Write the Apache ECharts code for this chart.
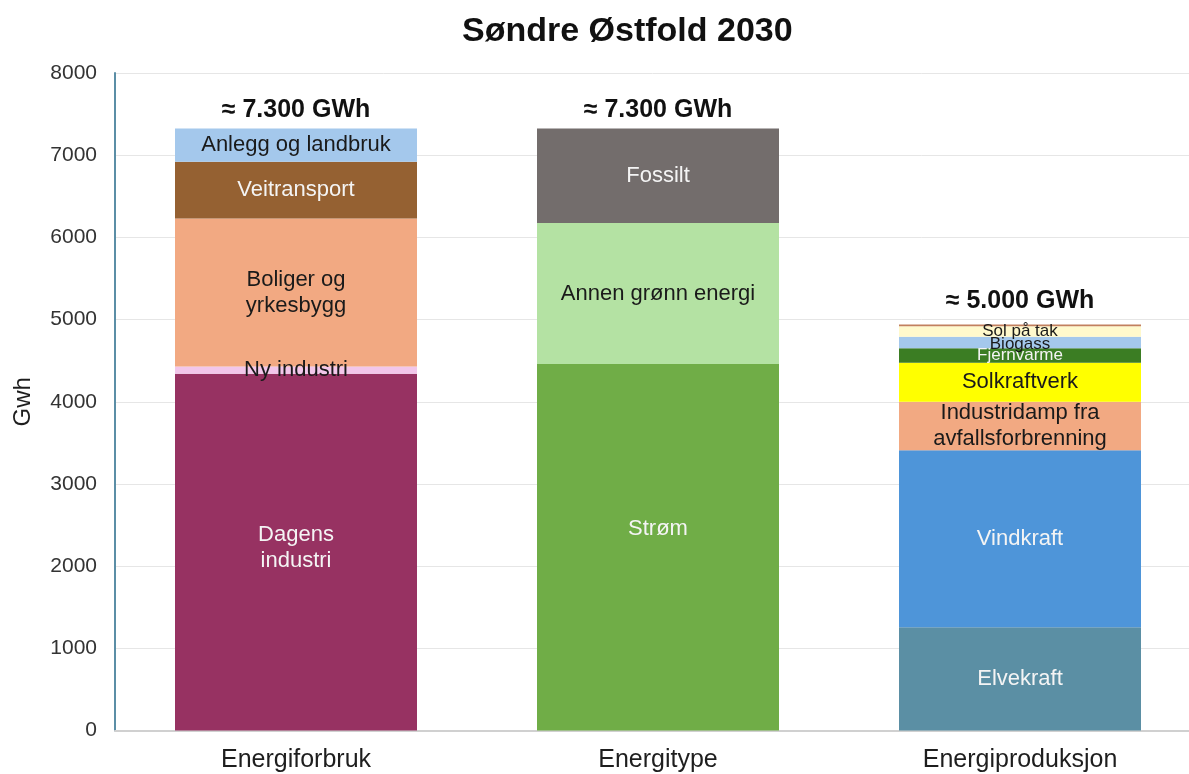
<!DOCTYPE html>
<html>
<head>
<meta charset="utf-8">
<script src="https://cdn.jsdelivr.net/npm/echarts@6/dist/echarts.min.js"></script>
<style>
  html, body { margin: 0; padding: 0; background: #fff; }
  #chart { width: 1189px; height: 774px; }
</style>
</head>
<body>
<div id="chart"></div>
<script>
// data (GWh), every bar bottom -> top
const categories = ['Energiforbruk', 'Energitype', 'Energiproduksjon'];

const forbrukNames = ['Dagens industri', 'Ny industri', 'Boliger og yrkesbygg', 'Veitransport', 'Anlegg og landbruk'];
const forbrukValues = [4340, 90, 1800, 690, 405];

const typeNames = ['Strøm', 'Annen grønn energi', 'Fossilt'];
const typeValues = [4460, 1715, 1150];

const produksjonNames = ['Elvekraft', 'Vindkraft', 'Industridamp fra avfallsforbrenning', 'Solkraftverk', 'Fjernvarme', 'Biogass', 'Sol på tak', 'Annet'];
const produksjonValues = [1255, 2155, 590, 475, 175, 140, 130, 20];

const totalLabels = ['≈ 7.300 GWh', '≈ 7.300 GWh', '≈ 5.000 GWh'];

// label text shown inside the segments ('' = none)
const forbrukTexts = ['Dagens\nindustri', 'Ny industri', 'Boliger og\nyrkesbygg', 'Veitransport', 'Anlegg og landbruk'];
const typeTexts = ['Strøm', 'Annen grønn energi', 'Fossilt'];
const produksjonTexts = ['Elvekraft', 'Vindkraft', 'Industridamp fra\navfallsforbrenning', 'Solkraftverk', 'Fjernvarme', 'Biogass', 'Sol på tak', ''];

// styles
const FONT = 'Liberation Sans, Arial, sans-serif';
const DARK = '#1a1a1a', LIGHT = '#f4f4f4';
const stacks = [
  { names: forbrukNames, values: forbrukValues, texts: forbrukTexts,
    colors: ['#973262', '#f2c6ea', '#f2a982', '#956132', '#a4c8ec'],
    textColors: [LIGHT, DARK, DARK, LIGHT, DARK],
    fontSizes: [22, 22, 22, 22, 22],
    offsets: [-4, 0, 0, 0, 0] },
  { names: typeNames, values: typeValues, texts: typeTexts,
    colors: ['#70ad47', '#b4e2a3', '#736d6c'],
    textColors: [LIGHT, DARK, LIGHT],
    fontSizes: [22, 22, 22],
    offsets: [-18, 0, 0] },
  { names: produksjonNames, values: produksjonValues, texts: produksjonTexts,
    colors: ['#5b8fa4', '#4e95d9', '#f2a982', '#ffff00', '#3b7d23', '#a4c8ec', '#fff9cc', '#c2805e'],
    textColors: [LIGHT, LIGHT, DARK, DARK, LIGHT, DARK, DARK, DARK],
    fontSizes: [22, 22, 22, 22, 17, 17, 17, 17],
    offsets: [0, 0, 0, 0, 0, 2, 0, 0] }
];
const totalDistances = [6, 6, 11];

const BAR_W = 242;
const series = [];
stacks.forEach(function (st, ci) {
  st.names.forEach(function (name, i) {
    const data = categories.map(function (c, k) { return k === ci ? st.values[i] : '-'; });
    series.push({
      name: name,
      type: 'bar',
      stack: 'total',
      barWidth: BAR_W,
      data: data,
      itemStyle: { color: st.colors[i] },
      label: {
        show: st.texts[i] !== '',
        position: 'inside',
        formatter: st.texts[i],
        color: st.textColors[i],
        fontSize: st.fontSizes[i],
        lineHeight: Math.round(st.fontSizes[i] * 1.2),
        fontFamily: FONT,
        offset: [0, st.offsets[i]]
      }
    });
  });
});

// invisible bars at the stack tops carry the "≈ ... GWh" labels
const totals = stacks.map(function (st) { return st.values.reduce(function (a, b) { return a + b; }, 0); });
series.push({
  name: 'Sum',
  type: 'bar',
  barWidth: BAR_W,
  barGap: '-100%',
  silent: true,
  z: 1,
  data: totals.map(function (v, k) {
    return { value: v, label: { distance: totalDistances[k] } };
  }),
  itemStyle: { color: 'rgba(0,0,0,0)' },
  label: {
    show: true,
    position: 'top',
    formatter: function (p) { return totalLabels[p.dataIndex]; },
    color: '#111',
    fontSize: 25,
    fontWeight: 'bold',
    fontFamily: FONT
  }
});

const chart = echarts.init(document.getElementById('chart'));
chart.setOption({
  animation: false,
  textStyle: { fontFamily: FONT },
  title: {
    text: 'Søndre Østfold 2030',
    left: 457,
    top: 10,
    textStyle: { fontSize: 34, fontWeight: 'bold', color: '#111', fontFamily: FONT }
  },
  grid: { left: 115, right: -12, top: 73, bottom: 43.5, outerBoundsMode: 'none' },
  xAxis: {
    type: 'category',
    data: categories,
    axisTick: { show: false },
    axisLine: { lineStyle: { color: '#d0d0d0', width: 2 } },
    axisLabel: { color: '#1e1e1e', fontSize: 25, margin: 17 }
  },
  yAxis: {
    type: 'value',
    min: 0,
    max: 8000,
    interval: 1000,
    name: 'Gwh',
    nameLocation: 'middle',
    nameGap: 80,
    nameTextStyle: { color: '#1e1e1e', fontSize: 24 },
    axisLine: { show: true, lineStyle: { color: '#5b8ea6', width: 2 } },
    axisTick: { show: false },
    axisLabel: { color: '#333', fontSize: 21, margin: 18, formatter: function (v) { return String(v); } },
    splitLine: { lineStyle: { color: '#e6e6e6', width: 1 } }
  },
  series: series
});
</script>
</body>
</html>
